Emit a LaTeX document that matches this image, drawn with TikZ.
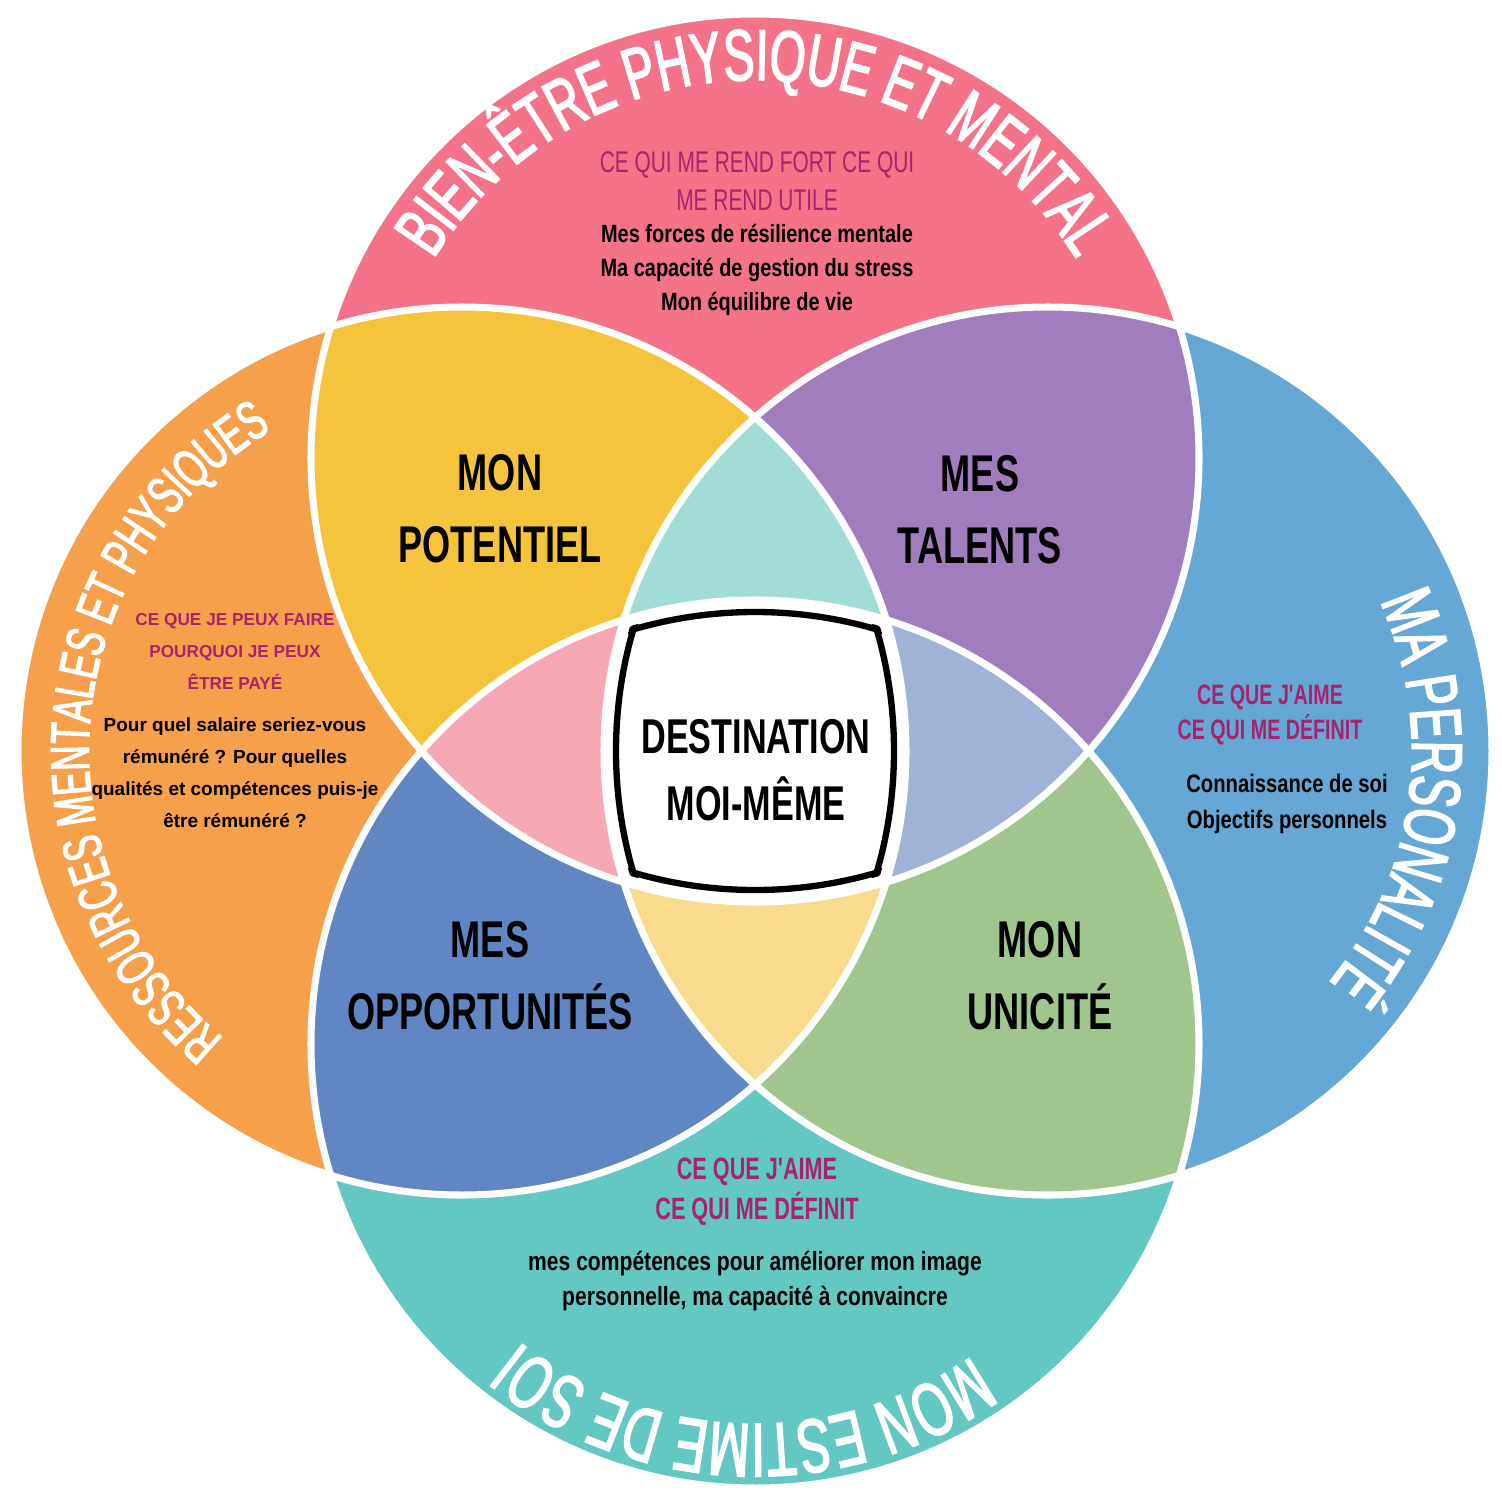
\documentclass[tikz,border=0pt]{standalone}
\usepackage{fontspec}
\setmainfont{Liberation Sans}
\newfontfamily\condfont{Liberation Sans}[FakeStretch=0.70]
\newfontfamily\semifont{Liberation Sans}[FakeStretch=0.80]
\newfontfamily\arcfont{Liberation Sans}[FakeStretch=0.64, FakeBold=2.2]
\usetikzlibrary{decorations.text}

\definecolor{cTop}{HTML}{F47389}
\definecolor{cLeft}{HTML}{F7A04B}
\definecolor{cRight}{HTML}{66A8D5}
\definecolor{cBot}{HTML}{64C8C2}
\definecolor{cYellow}{HTML}{F6C43C}
\definecolor{cPurple}{HTML}{A07DBD}
\definecolor{cNavy}{HTML}{6086C3}
\definecolor{cGreen}{HTML}{A0C68D}
\definecolor{cAqua}{HTML}{A1DCD6}
\definecolor{cRose}{HTML}{F6A8B4}
\definecolor{cLilac}{HTML}{A0B2D8}
\definecolor{cCream}{HTML}{FADA8C}
\definecolor{cMag}{HTML}{A8236C}

\def\rad{4.44cm}
\def\inrad{4.32cm}

\tikzset{
  sep/.style={draw=white, line width=2pt},
  biglabel/.style={font=\condfont\bfseries\fontsize{14.7}{20.5}\selectfont, align=center, inner sep=0pt},
  centrelabel/.style={font=\condfont\bfseries\fontsize{13.9}{19}\selectfont, align=center, inner sep=0pt},
  headline/.style={text=cMag, align=center, inner sep=0pt},
  bodytext/.style={text=black, align=center, inner sep=0pt}
}

\begin{document}
\begin{tikzpicture}
\useasboundingbox (-7.55,-7.41) rectangle (7.47,7.51);
\coordinate (T) at (0,2.93);
\coordinate (L) at (-2.93,0);
\coordinate (R) at (2.93,0);
\coordinate (B) at (0,-2.93);

% the four circles
\fill[cTop] (T) circle[radius=\rad];
\fill[cLeft] (L) circle[radius=\rad];
\fill[cRight] (R) circle[radius=\rad];
\fill[cBot] (B) circle[radius=\rad];

% two circles
\foreach \a/\b/\col in {T/L/cYellow, T/R/cPurple, L/B/cNavy, R/B/cGreen}{
  \begin{scope}
    \clip (\a) circle[radius=\rad];
    \fill[\col] (\b) circle[radius=\rad];
  \end{scope}
}

% three circles
\foreach \a/\b/\c/\col in {T/L/R/cAqua, T/L/B/cRose, T/R/B/cLilac, L/R/B/cCream}{
  \begin{scope}
    \clip (\a) circle[radius=\rad];
    \clip (\b) circle[radius=\rad];
    \fill[\col] (\c) circle[radius=\rad];
  \end{scope}
}

% all four
\begin{scope}
  \clip (T) circle[radius=\rad];
  \clip (L) circle[radius=\rad];
  \clip (R) circle[radius=\rad];
  \fill[white] (B) circle[radius=\rad];
\end{scope}

\foreach \c in {T,L,R,B} \draw[sep] (\c) circle[radius=\rad];

% black frame of the centre
\foreach \a/\b/\c/\d in {T/L/R/B, L/T/R/B, R/T/L/B, B/T/L/R}{
  \begin{scope}
    \clip (\b) circle[radius=4.36cm];
    \clip (\c) circle[radius=4.36cm];
    \clip (\d) circle[radius=4.36cm];
    \draw[line width=1.8pt] (\a) circle[radius=\inrad];
  \end{scope}
}

% curved titles
\path[decorate, decoration={text along path, text align=center,
  text={|\arcfont\fontsize{20.5}{20.5}\selectfont\color{white}|BIEN-ÊTRE PHYSIQUE ET MENTAL}}]
  ([shift={(165:3.78)}]T) arc[start angle=165, end angle=15, radius=3.78cm];
\path[decorate, decoration={text along path, text align=center,
  text={|\arcfont\fontsize{15.6}{15.6}\selectfont\color{white}|RESSOURCES MENTALES ET PHYSIQUES}}]
  ([shift={(250.5:3.73)}]L) arc[start angle=250.5, end angle=100.5, radius=3.73cm];
\path[decorate, decoration={text along path, text align=center,
  text={|\arcfont\fontsize{20.5}{20.5}\selectfont\color{white}|MA PERSONALITÉ}}]
  ([shift={(52.4:3.64)}]R) arc[start angle=52.4, end angle=-67.6, radius=3.64cm];
\path[decorate, decoration={text along path, text align=center,
  text={|\arcfont\fontsize{21.6}{21.6}\selectfont\color{white}|MON ESTIME DE SOI}}]
  ([shift={(-31.8:3.8)}]B) arc[start angle=-31.8, end angle=-151.8, radius=3.8cm];

% region labels
\node[biglabel] (potentiel) at (-2.55,2.42) {MON\\POTENTIEL};
\node[biglabel] (talents) at (2.25,2.41) {MES\\TALENTS};
\node[biglabel] (opport) at (-2.65,-2.25) {MES\\OPPORTUNITÉS};
\node[biglabel] (unicite) at (2.85,-2.25) {MON\\UNICITÉ};
\node[centrelabel] (destination) at (0.01,-0.19) {DESTINATION\\MOI-MÊME};

% top
\node[headline, font=\condfont\fontsize{8.5}{10.8}\selectfont] (topHead) at (0.02,5.70)
  {CE QUI ME REND FORT CE QUI\\ME REND UTILE};
\node[bodytext, font=\semifont\bfseries\fontsize{7.1}{9.7}\selectfont] (topBody) at (0.02,4.81)
  {Mes forces de résilience mentale\\Ma capacité de gestion du stress\\Mon équilibre de vie};
% left
\node[headline, font=\bfseries\fontsize{4.9}{9.1}\selectfont] (leftHead) at (-5.20,1.00)
  {CE QUE JE PEUX FAIRE\\POURQUOI JE PEUX\\ÊTRE PAYÉ};
\node[bodytext, font=\bfseries\fontsize{5.4}{9.1}\selectfont] (leftBody) at (-5.20,-0.22)
  {Pour quel salaire seriez-vous\\rémunéré ? Pour quelles\\qualités et compétences puis-je\\être rémunéré ?};
% right
\node[headline, font=\condfont\bfseries\fontsize{8}{10.2}\selectfont] (rightHead) at (5.15,0.36)
  {CE QUE J'AIME\\CE QUI ME DÉFINIT};
\node[bodytext, font=\semifont\bfseries\fontsize{7.2}{10.2}\selectfont] (rightBody) at (5.32,-0.53)
  {Connaissance de soi\\Objectifs personnels};
% bottom
\node[headline, font=\condfont\bfseries\fontsize{8.8}{11.4}\selectfont] (botHead) at (0.02,-4.41)
  {CE QUE J'AIME\\CE QUI ME DÉFINIT};
\node[bodytext, font=\semifont\bfseries\fontsize{7.5}{10.2}\selectfont] (botBody) at (0,-5.30)
  {mes compétences pour améliorer mon image\\personnelle, ma capacité à convaincre};
\end{tikzpicture}
\end{document}
